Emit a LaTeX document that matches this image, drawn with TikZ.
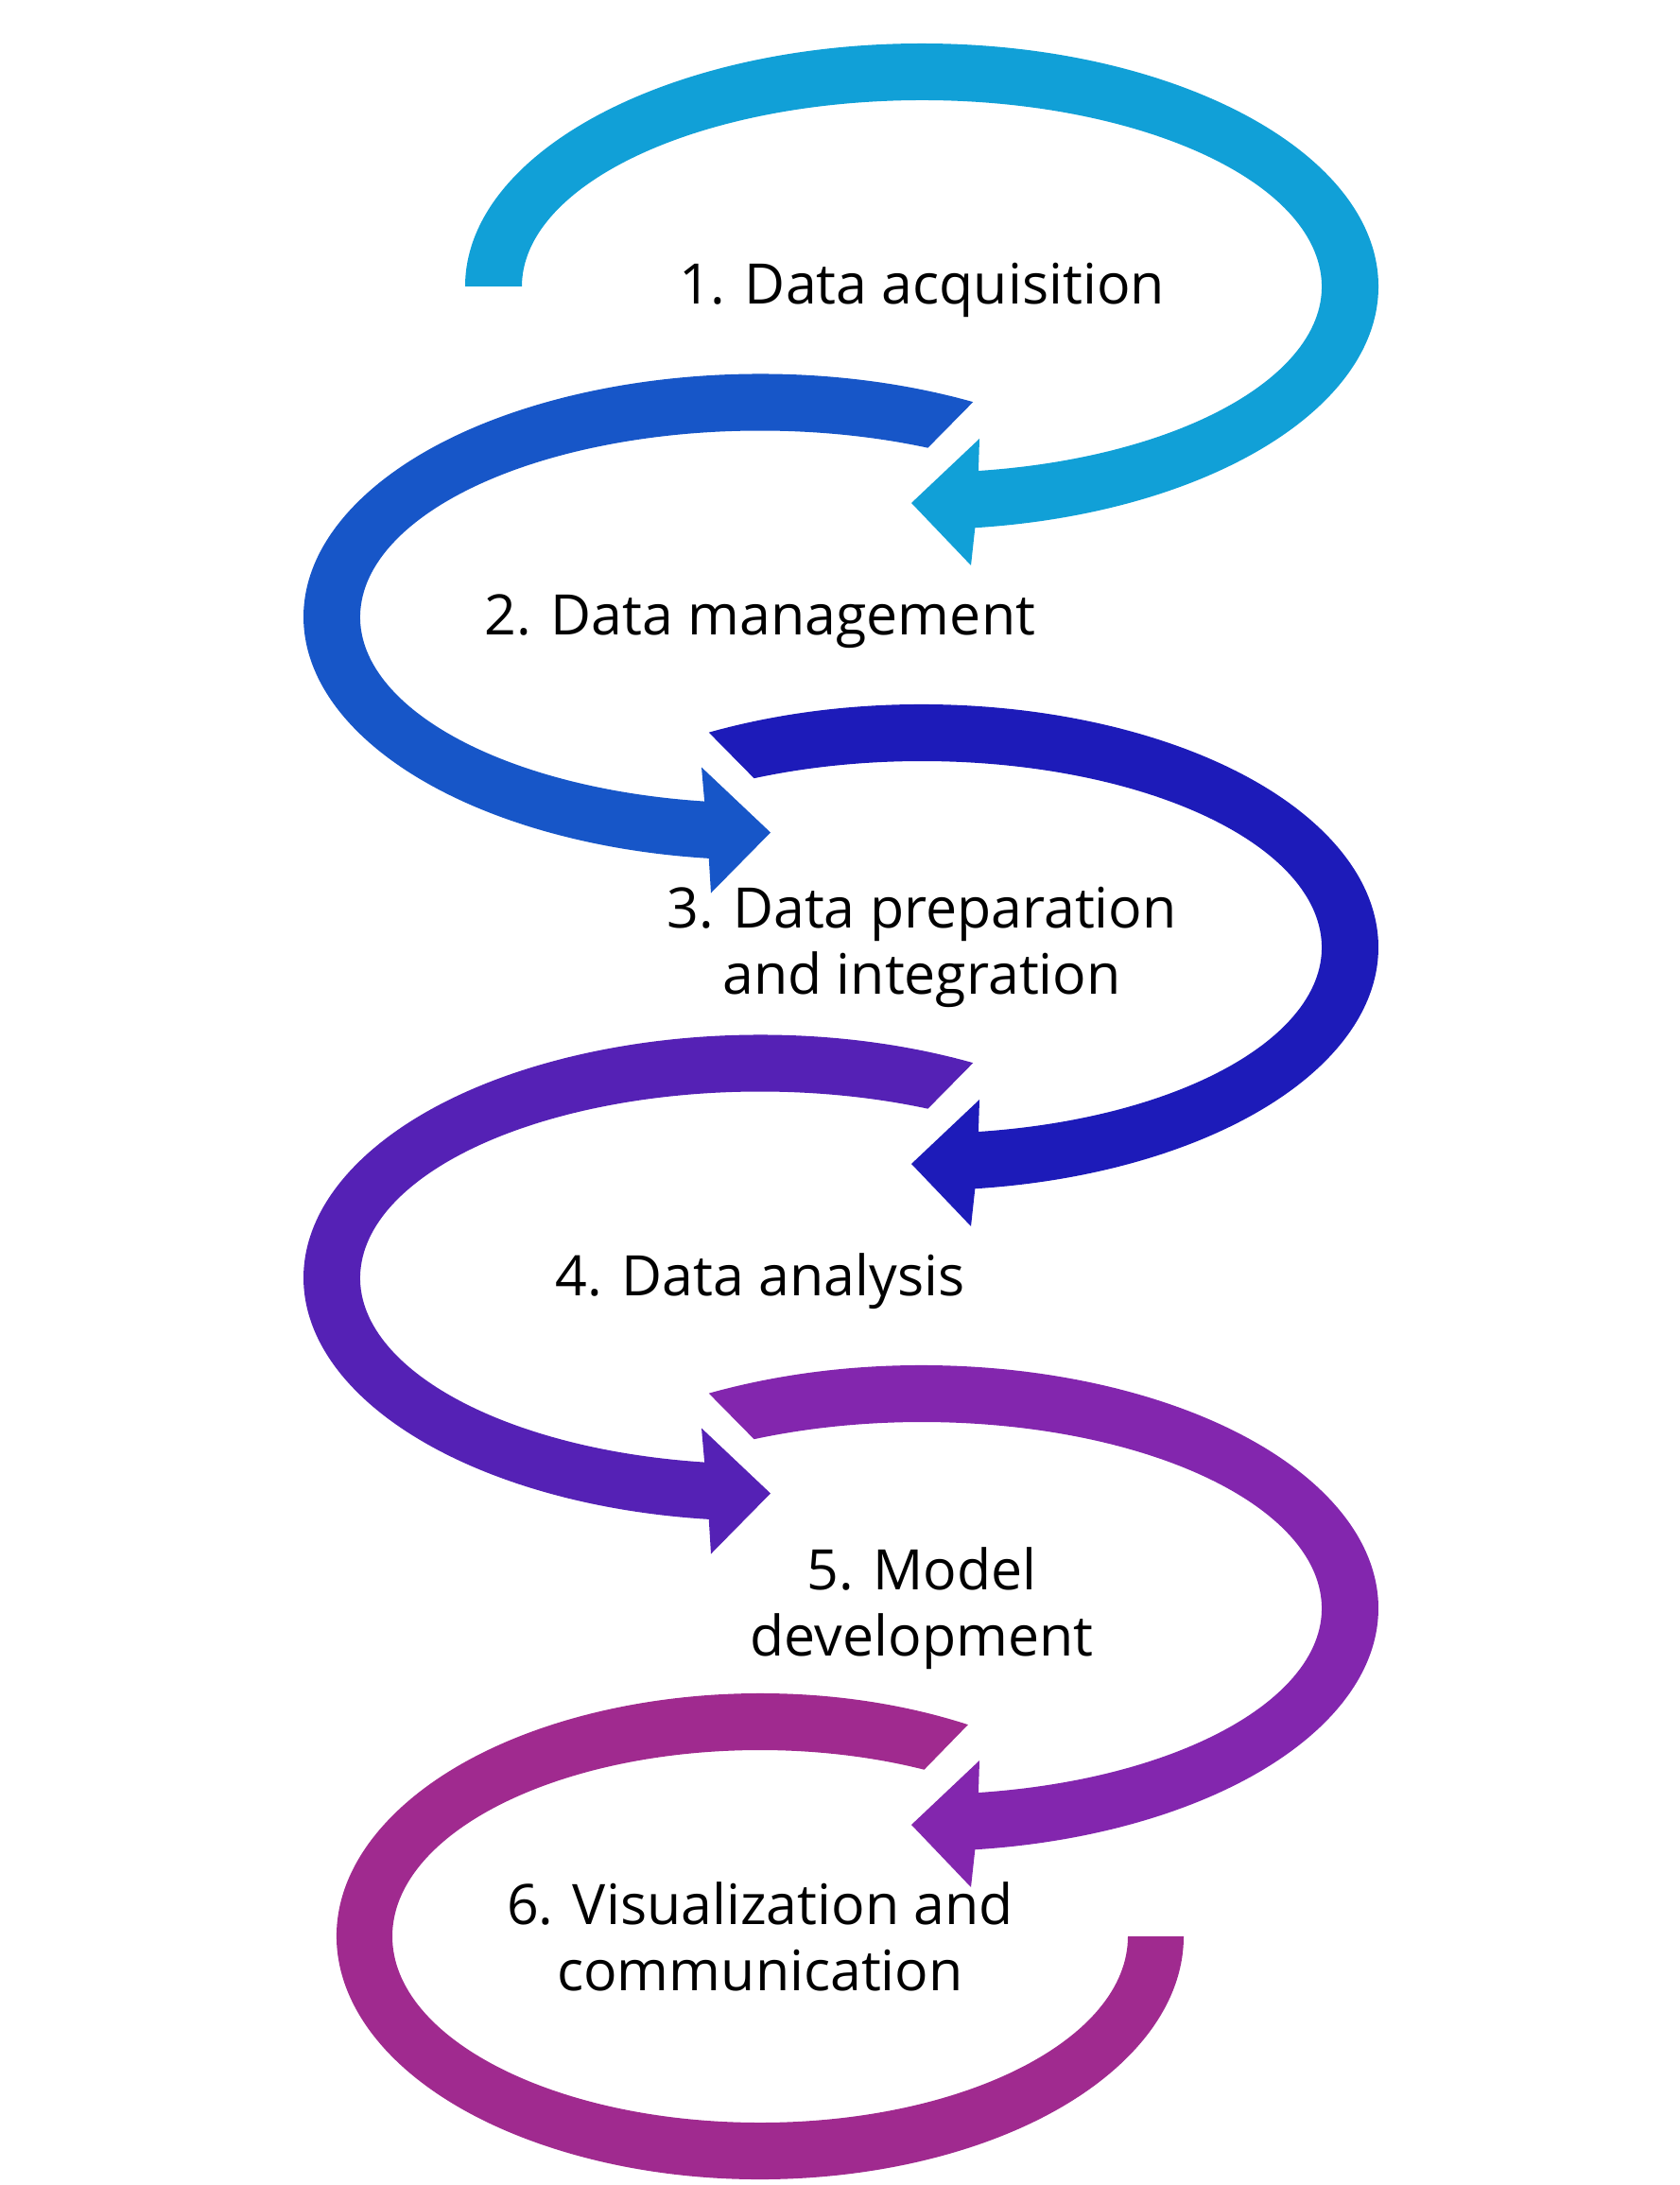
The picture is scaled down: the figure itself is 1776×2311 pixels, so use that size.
\documentclass[tikz,border=0pt]{standalone}
\usepackage{fontspec}
\setmainfont{Open Sans}
\definecolor{colAcq}{HTML}{11A0D7}
\definecolor{colMan}{HTML}{1756C8}
\definecolor{colPrep}{HTML}{1D1BB9}
\definecolor{colAna}{HTML}{5521B5}
\definecolor{colModel}{HTML}{8326AE}
\definecolor{colVis}{HTML}{A02A8F}

\begin{document}
\begin{tikzpicture}[x=0.1mm, y=-0.1mm,
  steptext/.style={font=\fontsize{16.8}{19.9}\selectfont, align=center, inner sep=0pt}]
  \useasboundingbox (0,0) rectangle (1776,2311);
  % Step 1: loop on the right, flat open end on the left
  \begin{scope}[shift={(975,303)}]
    \fill[colAcq] (180:483 and 257) arc[start angle=180, end angle=443.3, x radius=483, y radius=257]
      -- (52,295) -- (-11,229) -- (61,161)
      -- (441.85:423 and 197) arc[start angle=441.85, end angle=180, x radius=423, y radius=197] -- cycle;
    \node[steptext, anchor=base] (acq) at (0,19) {1. Data acquisition};
  \end{scope}
  % Step 2: loop on the left, head points right
  \begin{scope}[shift={(804,652.5)}]
    \fill[colMan] (297.8:483 and 257) arc[start angle=297.8, end angle=96.45, x radius=483, y radius=257]
      -- (-52,292) -- (11,228) -- (-62,159)
      -- (98:423 and 197) arc[start angle=98, end angle=294.8, x radius=423, y radius=197] -- cycle;
    \node[steptext, anchor=base] (man) at (0,19) {2. Data management};
  \end{scope}
  % Step 3: loop on the right, start cut at 45 degrees
  \begin{scope}[shift={(975,1002)}]
    \fill[colPrep] (242.2:483 and 257) arc[start angle=242.2, end angle=443.3, x radius=483, y radius=257]
      -- (52,295) -- (-11,229) -- (61,161)
      -- (441.85:423 and 197) arc[start angle=441.85, end angle=245.2, x radius=423, y radius=197] -- cycle;
    \node[steptext] (prep) at (0,0) {3. Data preparation\\and integration};
  \end{scope}
  % Step 4
  \begin{scope}[shift={(804,1351.5)}]
    \fill[colAna] (297.8:483 and 257) arc[start angle=297.8, end angle=96.45, x radius=483, y radius=257]
      -- (-52,292) -- (11,228) -- (-62,159)
      -- (98:423 and 197) arc[start angle=98, end angle=294.8, x radius=423, y radius=197] -- cycle;
    \node[steptext, anchor=base] (ana) at (0,19) {4. Data analysis};
  \end{scope}
  % Step 5
  \begin{scope}[shift={(975,1701)}]
    \fill[colModel] (242.2:483 and 257) arc[start angle=242.2, end angle=443.3, x radius=483, y radius=257]
      -- (52,295) -- (-11,229) -- (61,161)
      -- (441.85:423 and 197) arc[start angle=441.85, end angle=245.2, x radius=423, y radius=197] -- cycle;
    \node[steptext] (model) at (0,0) {5. Model\\development};
  \end{scope}
  % Step 6: narrower loop, flat open end on the right
  \begin{scope}[shift={(804,2048)}]
    \fill[colVis] (299.4:448 and 257) arc[start angle=299.4, end angle=0, x radius=448, y radius=257]
      -- (0:389 and 197) arc[start angle=0, end angle=296.5, x radius=389, y radius=197] -- cycle;
    \node[steptext] (vis) at (0,0) {6. Visualization and\\communication};
  \end{scope}
\end{tikzpicture}
\end{document}
